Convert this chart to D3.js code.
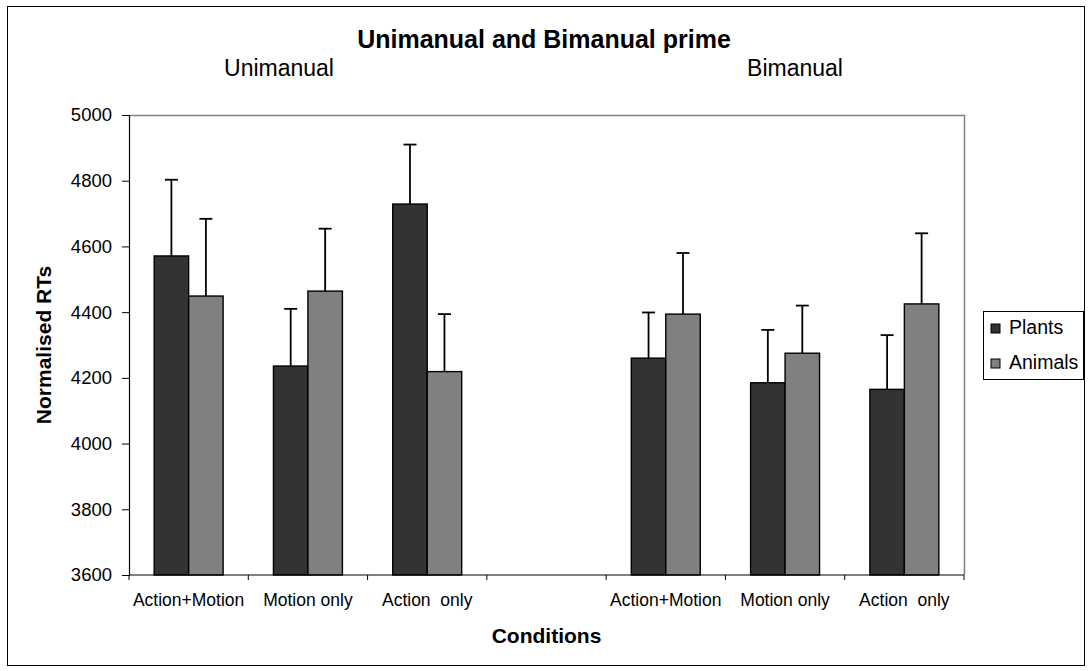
<!DOCTYPE html>
<html>
<head>
<meta charset="utf-8">
<script src="https://cdn.jsdelivr.net/npm/d3@7"></script>
<style>
  body { margin: 0; background: #fff; }
  text { font-family: Arial, "Liberation Sans", sans-serif; fill: #000; }
</style>
</head>
<body>
<svg id="chart" width="1091" height="671"></svg>
<script>
var categories = ["Action+Motion", "Motion only", "Action  only", "", "Action+Motion", "Motion only", "Action  only"];
var seriesNames = ["Plants", "Animals"];
// null = empty gap category between the two groups
var plantsValues = [4571, 4236, 4729, null, 4260, 4185, 4165];
var plantsErrors = [232, 174, 181, null, 139, 161, 165];
var animalsValues = [4449, 4464, 4219, null, 4394, 4275, 4425];
var animalsErrors = [235, 190, 175, null, 186, 145, 215];
var yTicks = [3600, 3800, 4000, 4200, 4400, 4600, 4800, 5000];
var groupLabels = ["Unimanual", "Bimanual"];

var margin = { top: 115, left: 129, right: 964, bottom: 575 };
var colors = { Plants: "#333333", Animals: "#808080" };

var svg = d3.select("#chart");

// outer chart border
svg.append("rect")
  .attr("x", 7.5).attr("y", 6.5)
  .attr("width", 1077).attr("height", 659)
  .attr("fill", "none").attr("stroke", "#000").attr("stroke-width", 1);

var xScale = d3.scaleBand()
  .domain(d3.range(categories.length))
  .range([margin.left, margin.right])
  .paddingInner(0).paddingOuter(0);

var xInner = d3.scaleBand()
  .domain(seriesNames)
  .range([0, xScale.bandwidth()])
  .paddingInner(0).paddingOuter(0.73);

var yScale = d3.scaleLinear()
  .domain([3600, 5000])
  .range([margin.bottom, margin.top]);

// plot area top/right border
svg.append("path")
  .attr("d", "M" + margin.left + "," + (margin.top + 0.5) + "H" + (margin.right + 0.5) + "V" + margin.bottom)
  .attr("fill", "none").attr("stroke", "#808080").attr("stroke-width", 1.5);

var rows = categories.map(function (c, i) {
  return {
    i: i,
    Plants: plantsValues[i], PlantsErr: plantsErrors[i],
    Animals: animalsValues[i], AnimalsErr: animalsErrors[i]
  };
}).filter(function (d) { return d.Plants !== null; });

var bars = [];
rows.forEach(function (d) {
  seriesNames.forEach(function (s) {
    bars.push({ i: d.i, key: s, value: d[s], err: d[s + "Err"] });
  });
});

function barCenter(d) { return xScale(d.i) + xInner(d.key) + xInner.bandwidth() / 2; }

// error bars (upper only)
var errG = svg.append("g").attr("class", "errors");
errG.selectAll("line.stem")
  .data(bars).enter().append("line")
  .attr("class", "stem")
  .attr("x1", barCenter)
  .attr("x2", barCenter)
  .attr("y1", function (d) { return yScale(d.value); })
  .attr("y2", function (d) { return yScale(d.value + d.err); })
  .attr("stroke", "#000").attr("stroke-width", 1.8);
errG.selectAll("line.cap")
  .data(bars).enter().append("line")
  .attr("class", "cap")
  .attr("x1", function (d) { return barCenter(d) - 6.5; })
  .attr("x2", function (d) { return barCenter(d) + 6.5; })
  .attr("y1", function (d) { return yScale(d.value + d.err); })
  .attr("y2", function (d) { return yScale(d.value + d.err); })
  .attr("stroke", "#000").attr("stroke-width", 1.8);

svg.append("g").attr("class", "bars")
  .selectAll("rect")
  .data(bars).enter().append("rect")
  .attr("x", function (d) { return xScale(d.i) + xInner(d.key); })
  .attr("y", function (d) { return yScale(d.value); })
  .attr("width", xInner.bandwidth())
  .attr("height", function (d) { return yScale(3600) - yScale(d.value); })
  .attr("fill", function (d) { return colors[d.key]; })
  .attr("stroke", "#000").attr("stroke-width", 1.4);

// y axis
var yAxis = d3.axisLeft(yScale)
  .tickValues(yTicks)
  .tickSize(7)
  .tickPadding(10)
  .tickFormat(d3.format("d"));

var yG = svg.append("g")
  .attr("transform", "translate(" + margin.left + ",0)")
  .call(yAxis);
yG.select(".domain").attr("stroke", "#000").attr("stroke-width", 1.2);
yG.selectAll(".tick line").attr("stroke", "#000");
yG.selectAll(".tick text").style("font-size", "18.5px").attr("fill", "#000");

// x axis line with ticks on category boundaries
var xG = svg.append("g").attr("class", "x axis");
xG.append("line")
  .attr("x1", margin.left).attr("x2", margin.right)
  .attr("y1", margin.bottom).attr("y2", margin.bottom)
  .attr("stroke", "#000").attr("stroke-width", 1.2);
var bounds = d3.range(categories.length).map(function (i) { return xScale(i); }).concat([margin.right]);
xG.selectAll("line.tick")
  .data(bounds).enter().append("line")
  .attr("class", "tick")
  .attr("x1", function (d) { return d; }).attr("x2", function (d) { return d; })
  .attr("y1", margin.bottom).attr("y2", margin.bottom + 5)
  .attr("stroke", "#000");
xG.selectAll("text.cat")
  .data(categories).enter().append("text")
  .attr("class", "cat")
  .attr("x", function (d, i) { return xScale(i) + xScale.bandwidth() / 2; })
  .attr("y", 606)
  .attr("text-anchor", "middle")
  .style("font-size", "17.5px")
  .style("white-space", "pre")
  .text(function (d) { return d; });

// titles
svg.append("text")
  .attr("x", 544).attr("y", 48)
  .attr("text-anchor", "middle")
  .style("font-size", "25px").style("font-weight", "bold")
  .text("Unimanual and Bimanual prime");

svg.selectAll("text.group")
  .data(groupLabels).enter().append("text")
  .attr("class", "group")
  .attr("x", function (d, i) { return [279, 795][i]; })
  .attr("y", 76)
  .attr("text-anchor", "middle")
  .style("font-size", "23px")
  .text(function (d) { return d; });

svg.append("text")
  .attr("x", (margin.left + margin.right) / 2).attr("y", 643)
  .attr("text-anchor", "middle")
  .style("font-size", "21px").style("font-weight", "bold")
  .text("Conditions");

svg.append("text")
  .attr("transform", "translate(51," + ((margin.top + margin.bottom) / 2) + ") rotate(-90)")
  .attr("text-anchor", "middle")
  .style("font-size", "21px").style("font-weight", "bold")
  .text("Normalised RTs");

// legend
var legend = svg.append("g").attr("class", "legend");
legend.append("rect")
  .attr("x", 983.5).attr("y", 311.5)
  .attr("width", 100).attr("height", 68)
  .attr("fill", "#fff").attr("stroke", "#000");
legend.selectAll(".legend-rect")
  .data(seriesNames).enter().append("rect")
  .attr("class", "legend-rect")
  .attr("x", 991).attr("y", function (d, i) { return 324 + i * 35; })
  .attr("width", 9).attr("height", 9)
  .attr("fill", function (d) { return colors[d]; })
  .attr("stroke", "#000");
legend.selectAll(".legend-label")
  .data(seriesNames).enter().append("text")
  .attr("class", "legend-label")
  .attr("x", 1009).attr("y", function (d, i) { return 334 + i * 35; })
  .style("font-size", "19.5px")
  .text(function (d) { return d; });
</script>
</body>
</html>
